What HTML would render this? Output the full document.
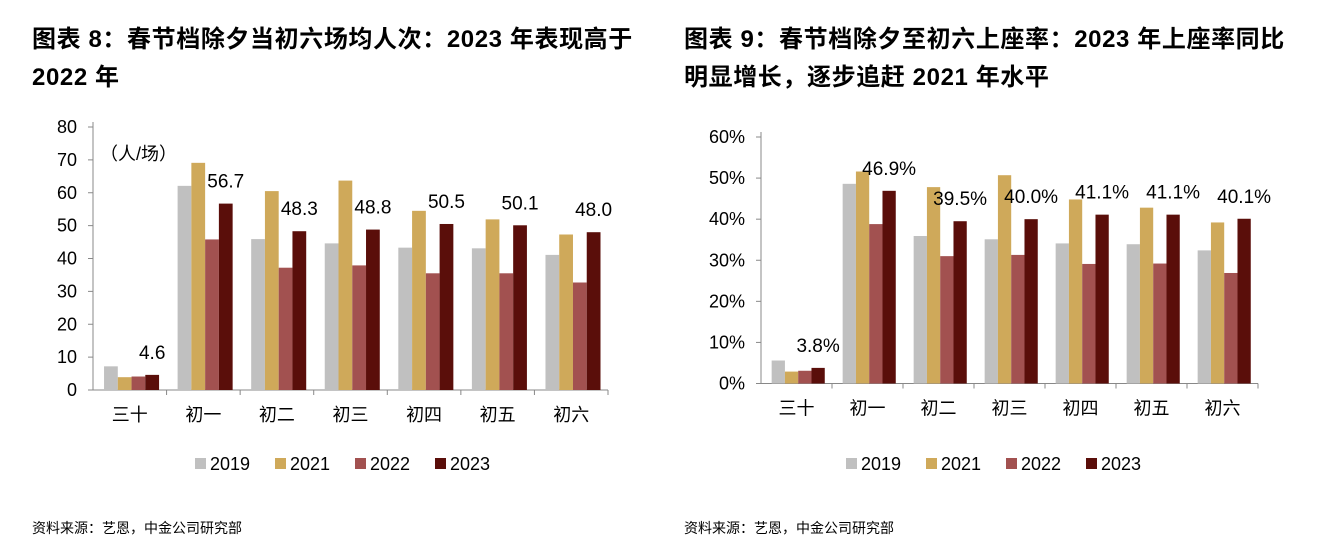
<!DOCTYPE html>
<html><head><meta charset="utf-8"><style>
body{margin:0;background:#fff;width:1340px;height:560px;overflow:hidden;font-family:"Liberation Sans","Noto Sans CJK SC",sans-serif;}
.t{position:absolute;font-weight:bold;font-size:24px;line-height:38px;color:#000;white-space:nowrap;letter-spacing:0.6px}
.s{position:absolute;font-size:14px;color:#000}
svg{position:absolute;left:0;top:0}
</style></head><body>
<div class="t" style="left:32px;top:21px">图表 8：春节档除夕当初六场均人次：2023 年表现高于<br>2022 年</div>
<div class="t" style="left:684px;top:21px">图表 9：春节档除夕至初六上座率：2023 年上座率同比<br>明显增长，逐步追赶 2021 年水平</div>
<div class="s" style="left:32px;top:518px">资料来源：艺恩，中金公司研究部</div>
<div class="s" style="left:684px;top:518px">资料来源：艺恩，中金公司研究部</div>
<svg id="c" width="1340" height="560" font-family="Liberation Sans, Noto Sans CJK SC, sans-serif"></svg>
<script>
const categories=["三十","初一","初二","初三","初四","初五","初六"];
const seriesNames=["2019","2021","2022","2023"];
const colors=["#c0c0c0","#cfa95a","#a25150","#5a0e0a"];
const leftS2019=[7.2,62.1,45.9,44.6,43.3,43.1,41.1];
const leftS2021=[3.9,69.1,60.5,63.7,54.5,51.9,47.3];
const leftS2022=[4.1,45.8,37.2,37.9,35.5,35.5,32.7];
const leftS2023=[4.6,56.7,48.3,48.8,50.5,50.1,48.0];
const leftTicks=[0,10,20,30,40,50,60,70,80];
const rightS2019=[5.6,48.6,35.9,35.1,34.1,33.9,32.4];
const rightS2021=[2.9,51.6,47.8,50.7,44.8,42.8,39.2];
const rightS2022=[3.1,38.8,31.0,31.3,29.1,29.2,26.9];
const rightS2023=[3.8,46.9,39.5,40.0,41.1,41.1,40.1];
const rightTicks=[0,10,20,30,40,50,60];
const svg=document.getElementById('c');
function el(t,a,txt){const e=document.createElementNS('http://www.w3.org/2000/svg',t);for(const k in a)e.setAttribute(k,a[k]);if(txt!==undefined)e.textContent=txt;svg.appendChild(e);return e;}
function chart(p){
 const y=v=>p.y0-(v-p.min)/(p.max-p.min)*(p.y0-p.y1);
 const cw=(p.x1-p.x0)/categories.length, bw=cw*0.187, off=cw*0.15;
 let a=el('line',{x1:p.x0,y1:p.y1-5,x2:p.x0,y2:p.y0,stroke:'#888'});
 
 p.ticks.forEach(t=>{const yy=y(t);el('line',{x1:p.x0-5,y1:yy,x2:p.x0,y2:yy,stroke:'#888'});
  const tx=el('text',{x:p.x0-16,y:yy+6,'text-anchor':'end','font-size':18},t+p.suf);
  });
 a=el('line',{x1:p.x0,y1:p.y0,x2:p.x1,y2:p.y0,stroke:'#888'});
 
 categories.forEach((c,i)=>{const cx=p.x0+cw*i;
  el('line',{x1:cx+cw,y1:p.y0,x2:cx+cw,y2:p.y0+5,stroke:'#888'});
  const tx=el('text',{x:cx+cw/2,y:p.y0+31,'text-anchor':'middle','font-size':18},c);
  
  p.data.forEach((s,j)=>{const bx=cx+off+bw*j;const r=el('rect',{x:bx,y:y(s[i]),width:bw,height:p.y0-y(s[i]),fill:colors[j]});
   });
  const v=p.data[3][i];
  const l=el('text',{x:cx+off+bw*3.5,y:y(v)-16,'text-anchor':'middle','font-size':19},v.toFixed(1)+p.suf);
  
 });
 seriesNames.forEach((n,j)=>{const lx=p.lx+j*80;
  const r=el('rect',{x:lx,y:p.ly-11,width:11,height:11,fill:colors[j]});
  
  const t=el('text',{x:lx+15,y:p.ly+1,'font-size':18},n);
  });
}
chart({id:'left',x0:93,x1:608,y0:390,y1:127,min:0,max:80,ticks:leftTicks,suf:'',data:[leftS2019,leftS2021,leftS2022,leftS2023],lx:195,ly:469});
chart({id:'right',x0:761,x1:1258,y0:383.5,y1:137,min:0,max:60,ticks:rightTicks,suf:'%',data:[rightS2019,rightS2021,rightS2022,rightS2023],lx:846,ly:469});
const u=el('text',{x:100,y:160,'font-size':18},'（人/场）');

</script>
</body></html>
